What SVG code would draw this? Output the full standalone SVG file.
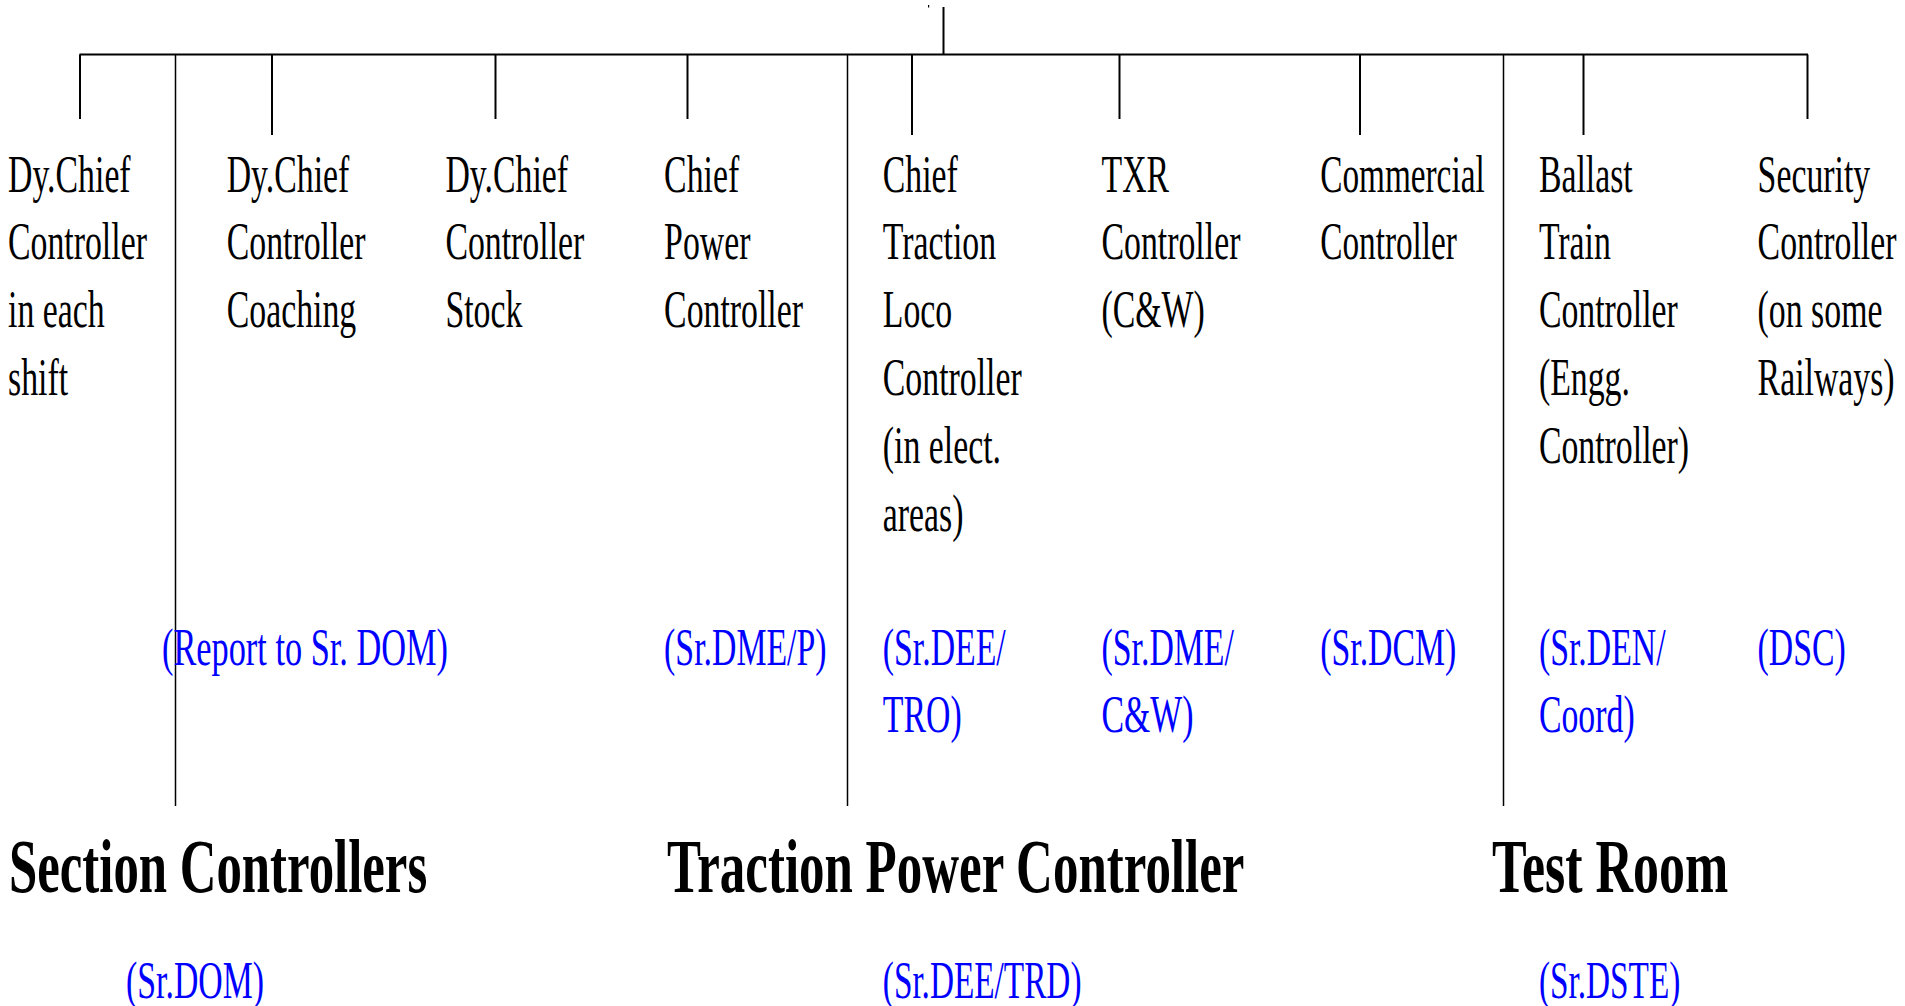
<svg xmlns="http://www.w3.org/2000/svg" width="1905" height="1006" viewBox="0 0 1905 1006">
<style>
.t{font-family:"Liberation Serif","Times New Roman",serif;font-size:52px;fill:#000}
.bl{fill:#0000ff}
.h{font-family:"Liberation Serif","Times New Roman",serif;font-size:77px;font-weight:bold;fill:#000}
.ln{stroke:#000;stroke-width:2;fill:none}
.lg{stroke:#000;stroke-width:1.5;fill:none}
</style>
<rect width="1905" height="1006" fill="#fff"/>
<g id="connectors">
<rect x="928" y="5" width="1.2" height="2.5" fill="#000"/>
<line class="ln" x1="943.5" y1="7" x2="943.5" y2="54.5"/>
<line class="ln" x1="79.5" y1="54.5" x2="1808" y2="54.5"/>
<line class="ln" x1="80" y1="54.5" x2="80" y2="119"/>
<line class="ln" x1="272" y1="54.5" x2="272" y2="135"/>
<line class="ln" x1="495.5" y1="54.5" x2="495.5" y2="119"/>
<line class="ln" x1="687.5" y1="54.5" x2="687.5" y2="119"/>
<line class="ln" x1="912" y1="54.5" x2="912" y2="135"/>
<line class="ln" x1="1119.5" y1="54.5" x2="1119.5" y2="119"/>
<line class="ln" x1="1360" y1="54.5" x2="1360" y2="135"/>
<line class="ln" x1="1583.5" y1="54.5" x2="1583.5" y2="135"/>
<line class="ln" x1="1807.5" y1="54.5" x2="1807.5" y2="119"/>
<line class="lg" x1="175.5" y1="54.5" x2="175.5" y2="806"/>
<line class="lg" x1="847.5" y1="54.5" x2="847.5" y2="806"/>
<line class="lg" x1="1503.5" y1="54.5" x2="1503.5" y2="806"/>
</g>
<g id="node-dy-chief-shift">
<text class="t" transform="translate(8,191.5) scale(0.65,1)"><tspan x="0">Dy.Chief</tspan><tspan x="0" dy="68">Controller</tspan><tspan x="0" dy="68">in each</tspan><tspan x="0" dy="68">shift</tspan></text>
</g>
<g id="node-dy-chief-coaching">
<text class="t" transform="translate(226.7,191.5) scale(0.65,1)"><tspan x="0">Dy.Chief</tspan><tspan x="0" dy="68">Controller</tspan><tspan x="0" dy="68">Coaching</tspan></text>
</g>
<g id="node-dy-chief-stock">
<text class="t" transform="translate(445.4,191.5) scale(0.65,1)"><tspan x="0">Dy.Chief</tspan><tspan x="0" dy="68">Controller</tspan><tspan x="0" dy="68">Stock</tspan></text>
</g>
<g id="node-chief-power">
<text class="t" transform="translate(664.1,191.5) scale(0.65,1)"><tspan x="0">Chief</tspan><tspan x="0" dy="68">Power</tspan><tspan x="0" dy="68">Controller</tspan></text>
<text class="t bl" transform="translate(664.1,665) scale(0.65,1)">(Sr.DME/P)</text>
</g>
<g id="node-chief-traction-loco">
<text class="t" transform="translate(882.8,191.5) scale(0.65,1)"><tspan x="0">Chief</tspan><tspan x="0" dy="68">Traction</tspan><tspan x="0" dy="68">Loco</tspan><tspan x="0" dy="68">Controller</tspan><tspan x="0" dy="68">(in elect.</tspan><tspan x="0" dy="68">areas)</tspan></text>
<text class="t bl" transform="translate(882.8,665) scale(0.65,1)"><tspan x="0">(Sr.DEE/</tspan><tspan x="0" dy="67">TRO)</tspan></text>
</g>
<g id="node-txr">
<text class="t" transform="translate(1101.5,191.5) scale(0.65,1)"><tspan x="0">TXR</tspan><tspan x="0" dy="68">Controller</tspan><tspan x="0" dy="68">(C&amp;W)</tspan></text>
<text class="t bl" transform="translate(1101.5,665) scale(0.65,1)"><tspan x="0">(Sr.DME/</tspan><tspan x="0" dy="67">C&amp;W)</tspan></text>
</g>
<g id="node-commercial">
<text class="t" transform="translate(1320.2,191.5) scale(0.64,1)"><tspan x="0">Commercial</tspan><tspan x="0" dy="68" transform="scale(1)">Controller</tspan></text>
<text class="t bl" transform="translate(1320.2,665) scale(0.65,1)">(Sr.DCM)</text>
</g>
<g id="node-ballast">
<text class="t" transform="translate(1538.9,191.5) scale(0.65,1)"><tspan x="0">Ballast</tspan><tspan x="0" dy="68">Train</tspan><tspan x="0" dy="68">Controller</tspan><tspan x="0" dy="68">(Engg.</tspan><tspan x="0" dy="68">Controller)</tspan></text>
<text class="t bl" transform="translate(1538.9,665) scale(0.65,1)"><tspan x="0">(Sr.DEN/</tspan><tspan x="0" dy="67">Coord)</tspan></text>
</g>
<g id="node-security">
<text class="t" transform="translate(1757.6,191.5) scale(0.65,1)"><tspan x="0">Security</tspan><tspan x="0" dy="68">Controller</tspan><tspan x="0" dy="68">(on some</tspan><tspan x="0" dy="68">Railways)</tspan></text>
<text class="t bl" transform="translate(1757.6,665) scale(0.65,1)">(DSC)</text>
</g>
<g id="note-report-dom">
<text class="t bl" transform="translate(162,665) scale(0.66,1)">(Report to Sr. DOM)</text>
</g>
<g id="heading-section">
<text class="h" transform="translate(9,892) scale(0.66,1)">Section Controllers</text>
<text class="t bl" transform="translate(126,998) scale(0.65,1)">(Sr.DOM)</text>
</g>
<g id="heading-traction">
<text class="h" transform="translate(667,892) scale(0.662,1)">Traction Power Controller</text>
<text class="t bl" transform="translate(882.8,998) scale(0.64,1)">(Sr.DEE/TRD)</text>
</g>
<g id="heading-test-room">
<text class="h" transform="translate(1492,892) scale(0.675,1)">Test Room</text>
<text class="t bl" transform="translate(1538.9,998) scale(0.64,1)">(Sr.DSTE)</text>
</g>
</svg>
